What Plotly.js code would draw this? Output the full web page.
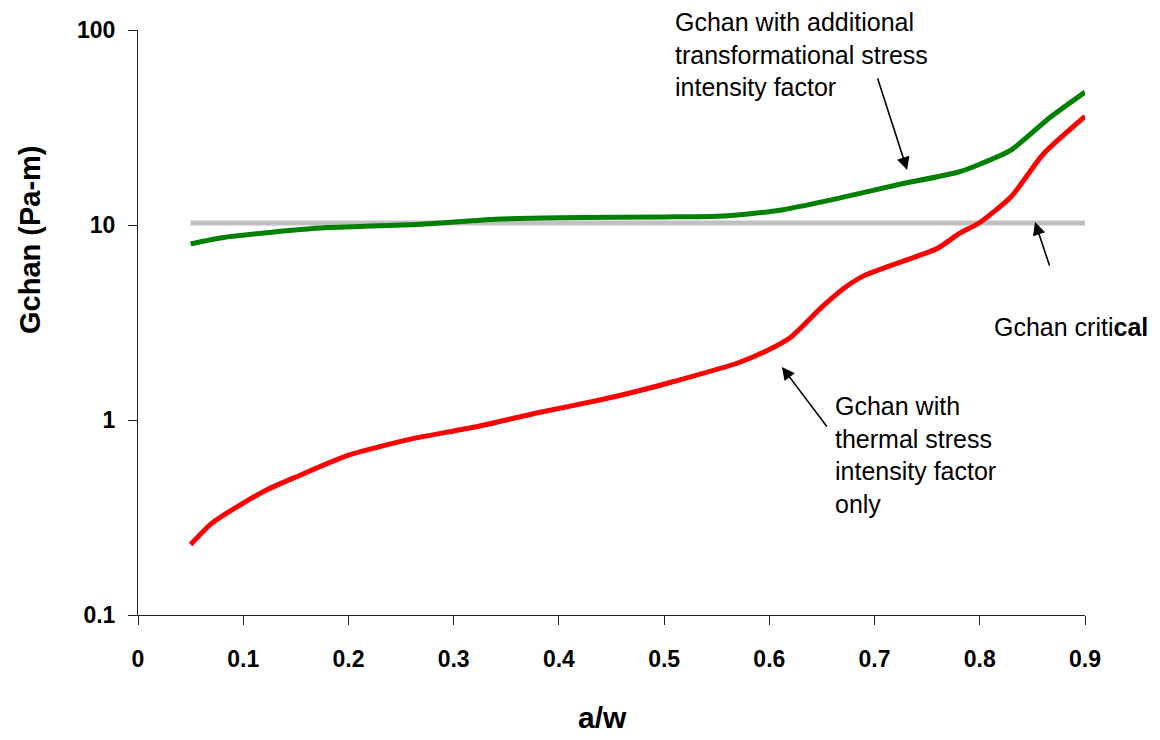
<!DOCTYPE html>
<html>
<head>
<meta charset="utf-8">
<script src="https://cdn.plot.ly/plotly-3.0.1.min.js"></script>
<style>html,body{margin:0;padding:0;background:#fff;}#chart{width:1160px;height:740px;}</style>
</head>
<body>
<div id="chart"></div>
<script>
// a/w values and Gchan (Pa-m) values
const xThermal = [0.05, 0.07, 0.1, 0.125, 0.15, 0.2, 0.26, 0.32, 0.38, 0.44, 0.48, 0.51, 0.57, 0.6, 0.62, 0.65, 0.67, 0.69, 0.74, 0.76, 0.78, 0.8, 0.83, 0.86, 0.9];
const gThermal = [0.23, 0.295, 0.375, 0.445, 0.51, 0.66, 0.80, 0.92, 1.09, 1.27, 1.43, 1.58, 1.96, 2.3, 2.65, 3.8, 4.7, 5.5, 6.9, 7.6, 9.0, 10.3, 14, 23, 36];

const xTransf = [0.05, 0.08, 0.12, 0.18, 0.27, 0.34, 0.4, 0.5, 0.55, 0.58, 0.61, 0.66, 0.72, 0.78, 0.8, 0.83, 0.865, 0.9];
const gTransf = [8.0, 8.6, 9.1, 9.7, 10.1, 10.7, 10.9, 11.0, 11.1, 11.4, 11.9, 13.5, 16.0, 18.7, 20.5, 24.3, 35, 48];

const xCritical = [0.05, 0.9];
const gCritical = [10.25, 10.25];

const yTickVals = [0.1, 1, 10, 100];
const yTickText = ['0.1', '1', '10', '100'];
const xTickVals = [0, 0.1, 0.2, 0.3, 0.4, 0.5, 0.6, 0.7, 0.8, 0.9];
const xTickText = ['0', '0.1', '0.2', '0.3', '0.4', '0.5', '0.6', '0.7', '0.8', '0.9'];

const FONT = 'Liberation Sans, Arial, sans-serif';

const traces = [
  {x: xCritical, y: gCritical, mode: 'lines', line: {color: '#c0c0c0', width: 5}, hoverinfo: 'skip'},
  {x: xTransf, y: gTransf, mode: 'lines', line: {color: '#008000', width: 5, shape: 'spline', smoothing: 0.6}, hoverinfo: 'skip'},
  {x: xThermal, y: gThermal, mode: 'lines', line: {color: '#ff0000', width: 5, shape: 'spline', smoothing: 0.6}, hoverinfo: 'skip'}
];

const arrowStyle = {showarrow: true, arrowhead: 2, arrowsize: 1.6, arrowwidth: 1.6, arrowcolor: '#000', text: ''};

const layout = {
  width: 1160, height: 740,
  margin: {l: 138, r: 75, t: 30, b: 125},
  paper_bgcolor: '#fff', plot_bgcolor: '#fff',
  showlegend: false,
  font: {family: FONT, color: '#000'},
  xaxis: {
    range: [0, 0.9], tickvals: xTickVals, ticktext: xTickText,
    showgrid: false, zeroline: false, showline: true, linecolor: '#222', linewidth: 1,
    ticks: 'outside', ticklen: 9, tickcolor: '#222', ticklabelstandoff: 14,
    tickfont: {family: FONT, size: 23, color: '#000', weight: 'bold'}
  },
  yaxis: {
    type: 'log', range: [-1, 2], tickvals: yTickVals, ticktext: yTickText,
    showgrid: false, zeroline: false, showline: true, linecolor: '#222', linewidth: 1,
    ticks: 'outside', ticklen: 9, tickcolor: '#222', ticklabelstandoff: 8,
    tickfont: {family: FONT, size: 23, color: '#000', weight: 'bold'}
  },
  annotations: [
    {xref: 'paper', yref: 'paper', x: (30 - 138) / 947, y: (615 - 240) / 585, xanchor: 'center', yanchor: 'middle',
     text: 'Gchan (Pa-m)', textangle: -90, showarrow: false,
     font: {family: FONT, size: 29, color: '#000', weight: 'bold'}},
    {xref: 'paper', yref: 'paper', x: (602 - 138) / 947, y: (615 - 717) / 585, xanchor: 'center', yanchor: 'middle',
     text: 'a/w', showarrow: false,
     font: {family: FONT, size: 30, color: '#000', weight: 'bold'}},
    {xref: 'paper', yref: 'paper', x: (673 - 138) / 947, y: (615 - 55) / 585, xanchor: 'left', yanchor: 'middle', align: 'left',
     text: 'Gchan with additional<br>transformational stress<br>intensity factor', showarrow: false,
     font: {family: FONT, size: 25, color: '#000'}},
    {xref: 'paper', yref: 'paper', x: (833 - 138) / 947, y: (615 - 455) / 585, xanchor: 'left', yanchor: 'middle', align: 'left',
     text: 'Gchan with<br>thermal stress<br>intensity factor<br>only', showarrow: false,
     font: {family: FONT, size: 25, color: '#000'}},
    {xref: 'paper', yref: 'paper', x: (992 - 138) / 947, y: (615 - 327) / 585, xanchor: 'left', yanchor: 'middle', align: 'left',
     text: 'Gchan criti<b>cal</b>', showarrow: false,
     font: {family: FONT, size: 25, color: '#000'}},
    Object.assign({xref: 'x', yref: 'y', x: 0.731, y: 1.282, ax: -30, ay: -93}, arrowStyle),
    Object.assign({xref: 'x', yref: 'y', x: 0.8525, y: 1.015, ax: 15, ay: 45}, arrowStyle),
    Object.assign({xref: 'x', yref: 'y', x: 0.612, y: 0.272, ax: 46, ay: 61}, arrowStyle)
  ]
};

Plotly.newPlot('chart', traces, layout, {staticPlot: true, displayModeBar: false});
</script>
</body>
</html>
